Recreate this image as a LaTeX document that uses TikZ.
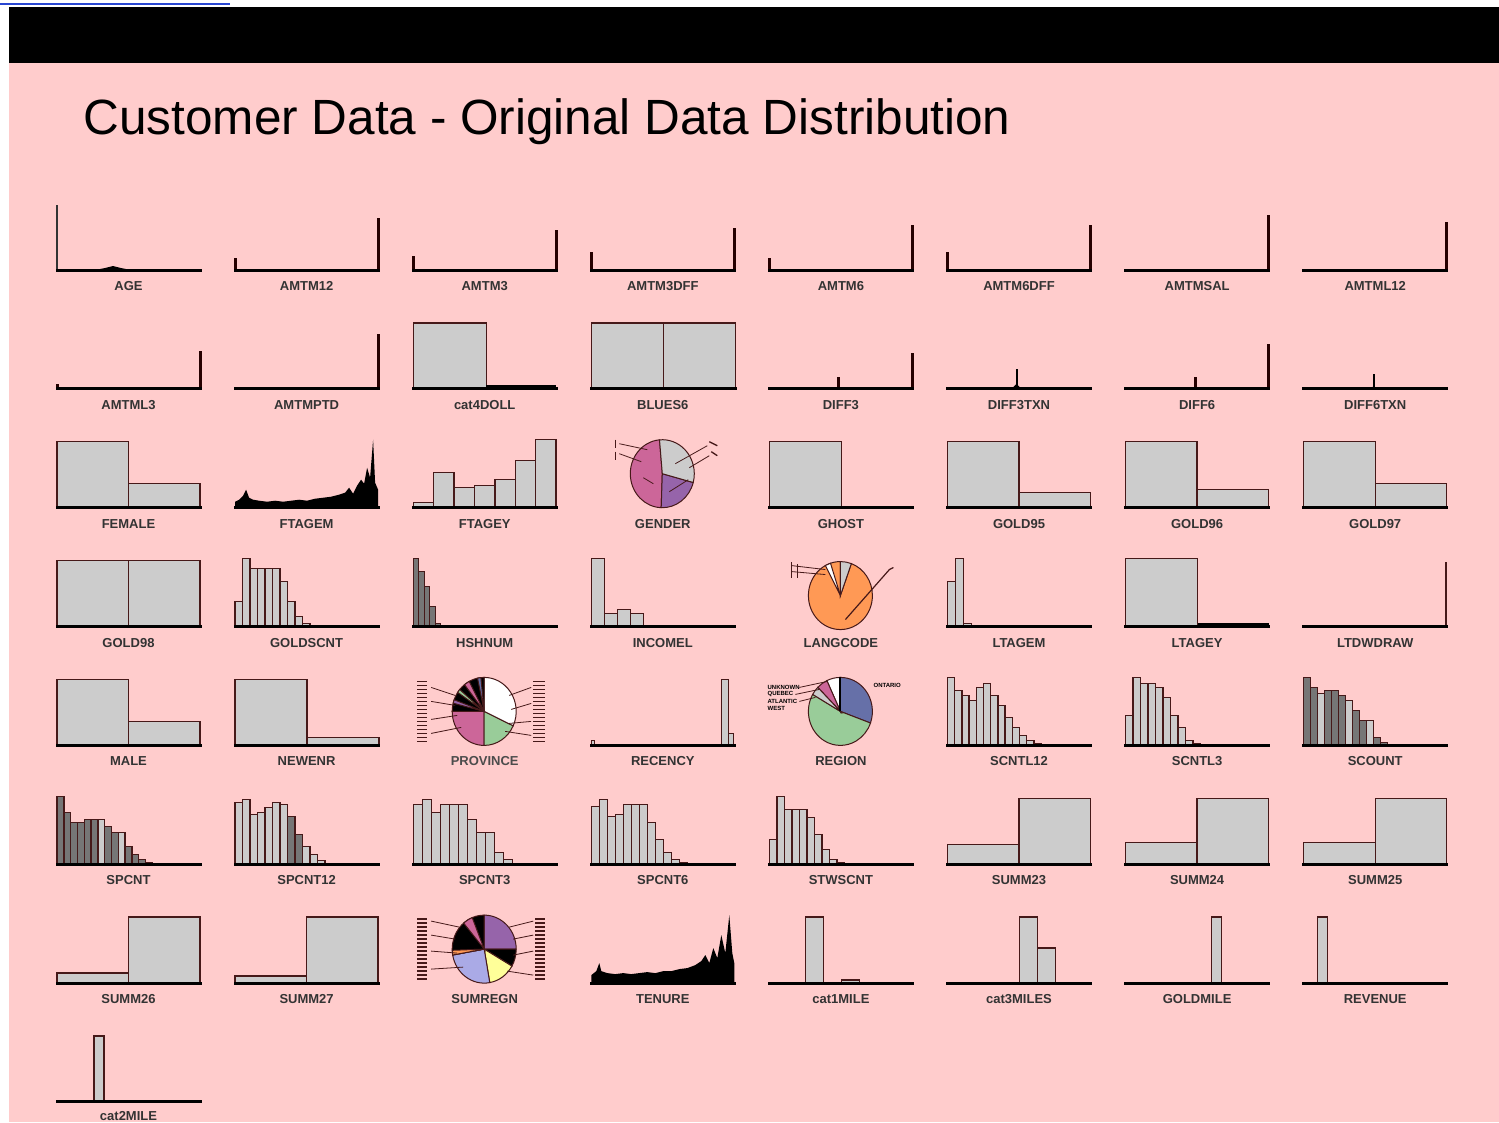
\documentclass[tikz,border=0pt]{standalone}
\usepackage{fontspec}
\setmainfont{Liberation Sans}
\usetikzlibrary{positioning}

\definecolor{bgpink}{RGB}{255,204,204}
\definecolor{bargray}{RGB}{204,204,204}
\definecolor{darkbar}{RGB}{118,118,118}
\definecolor{edge}{RGB}{70,25,25}
\definecolor{piepink}{RGB}{204,102,153}
\definecolor{piepurple}{RGB}{150,100,170}
\definecolor{pieorange}{RGB}{255,153,85}
\definecolor{piegreen}{RGB}{153,204,153}
\definecolor{pieblue}{RGB}{102,112,168}
\definecolor{pieyellow}{RGB}{255,255,153}
\definecolor{pielblue}{RGB}{170,170,230}
\definecolor{linkblue}{RGB}{40,70,210}

\tikzset{
  axis/.style={line width=3pt, line cap=rect},
  bar/.style={fill=bargray, draw=edge, line width=1.4pt},
  dbar/.style={bar, fill=darkbar},
  spike/.style={line width=3pt, draw=black!85!red},
  lead/.style={draw=edge, line width=0.8pt},
  lab/.style={font=\bfseries\fontsize{13}{13}\selectfont, text=black!80},
  tiny/.style={font=\bfseries\fontsize{6}{6}\selectfont, inner sep=0pt},
  % panel origin: left end of the base line of column #1, row #2
  cell/.style 2 args={shift={({57+178.1*(#1-1)},{-270-118.85*(#2-1)})}}
}

% histogram bars: first x, bar width, heights (optional bar style)
\newcommand{\histbars}[4][bar]{%
  \foreach \h [count=\i from 0] in {#4} {
    \draw[#1] ({#2+\i*#3},0) rectangle ++(#3,\h);
  }}
% one pie slice round (71,34): start angle, end angle, colour
\newcommand{\pieslice}[3]{%
  \filldraw[fill=#3, draw=edge, line width=1pt] (71,34) -- ++(#1:32 and 34)
    arc[start angle=#1, end angle=#2, x radius=32, y radius=34] -- cycle;}
% stacked label strokes beside a pie: x from, x to
\newcommand{\sidelabels}[2]{%
  \foreach \y in {4,8,...,64} {\draw[edge, line width=1.3pt] (#1,\y) -- (#2,\y);}}

\begin{document}
\begin{tikzpicture}[x=1pt, y=1pt]

  % page, header bar and title
  \useasboundingbox (0,-1122) rectangle (1499,0);
  \fill[white] (0,-1122) rectangle (1499,0);
  \fill[bgpink] (9,-1122) rectangle (1499,-63);
  \fill[black] (9,-63) rectangle (1499,-7);
  \draw[linkblue, line width=1.5pt] (0,-4) -- (230,-4);
  \node[anchor=base west, font=\fontsize{49.5}{55}\selectfont] (title) at (80,-134)
    {Customer Data - Original Data Distribution};

  %%% row 1
  \begin{scope}[cell={1}{1}]
    \draw[line width=2pt, black!80] (0,0) -- (0,65);
    \fill[black] (38,0) -- (48,2) -- (56,4) -- (64,2) -- (74,0) -- cycle;
    \draw[axis] (0,0) -- (143,0);
    \node[lab] (age) at (71.5,-16) {AGE};
  \end{scope}
  \begin{scope}[cell={2}{1}]
    \draw[spike] (0,0) -- (0,12);
    \draw[spike] (143,0) -- (143,52);
    \draw[axis] (0,0) -- (143,0);
    \node[lab] (amtm12) at (71.5,-16) {AMTM12};
  \end{scope}
  \begin{scope}[cell={3}{1}]
    \draw[spike] (0,0) -- (0,14);
    \draw[spike] (143,0) -- (143,40);
    \draw[axis] (0,0) -- (143,0);
    \node[lab] (amtm3) at (71.5,-16) {AMTM3};
  \end{scope}
  \begin{scope}[cell={4}{1}]
    \draw[spike] (0,0) -- (0,18);
    \draw[spike] (143,0) -- (143,42);
    \draw[axis] (0,0) -- (143,0);
    \node[lab] (amtm3dff) at (71.5,-16) {AMTM3DFF};
  \end{scope}
  \begin{scope}[cell={5}{1}]
    \draw[spike] (0,0) -- (0,12);
    \draw[spike] (143,0) -- (143,45);
    \draw[axis] (0,0) -- (143,0);
    \node[lab] (amtm6) at (71.5,-16) {AMTM6};
  \end{scope}
  \begin{scope}[cell={6}{1}]
    \draw[spike] (0,0) -- (0,18);
    \draw[spike] (143,0) -- (143,45);
    \draw[axis] (0,0) -- (143,0);
    \node[lab] (amtm6dff) at (71.5,-16) {AMTM6DFF};
  \end{scope}
  \begin{scope}[cell={7}{1}]
    \draw[spike] (143,0) -- (143,55);
    \draw[axis] (0,0) -- (143,0);
    \node[lab] (amtmsal) at (71.5,-16) {AMTMSAL};
  \end{scope}
  \begin{scope}[cell={8}{1}]
    \draw[spike] (143,0) -- (143,48);
    \draw[axis] (0,0) -- (143,0);
    \node[lab] (amtml12) at (71.5,-16) {AMTML12};
  \end{scope}

  %%% row 2
  \begin{scope}[cell={1}{2}]
    \draw[spike] (0,0) -- (0,5);
    \draw[spike] (143,0) -- (143,38);
    \draw[axis] (0,0) -- (143,0);
    \node[lab] (amtml3) at (71.5,-16) {AMTML3};
  \end{scope}
  \begin{scope}[cell={2}{2}]
    \draw[spike] (143,0) -- (143,55);
    \draw[axis] (0,0) -- (143,0);
    \node[lab] (amtmptd) at (71.5,-16) {AMTMPTD};
  \end{scope}
  \begin{scope}[cell={3}{2}]
    \histbars{0}{73}{66}
    \fill[black] (73,0) rectangle (143,4);
    \draw[axis] (0,0) -- (143,0);
    \node[lab] (cat4doll) at (71.5,-16) {cat4DOLL};
  \end{scope}
  \begin{scope}[cell={4}{2}]
    \histbars{0}{72}{66,66}
    \draw[axis] (0,0) -- (144,0);
    \node[lab] (blues6) at (71.5,-16) {BLUES6};
  \end{scope}
  \begin{scope}[cell={5}{2}]
    \draw[spike] (69,0) -- (69,12);
    \draw[spike] (143,0) -- (143,36);
    \draw[axis] (0,0) -- (143,0);
    \node[lab] (diff3) at (71.5,-16) {DIFF3};
  \end{scope}
  \begin{scope}[cell={6}{2}]
    \draw[line width=2pt] (69,0) -- (69,20);
    \fill[black] (64,0) -- (69,5) -- (74,0) -- cycle;
    \draw[axis] (0,0) -- (143,0);
    \node[lab] (diff3txn) at (71.5,-16) {DIFF3TXN};
  \end{scope}
  \begin{scope}[cell={7}{2}]
    \draw[spike] (70,0) -- (70,12);
    \draw[spike] (143,0) -- (143,45);
    \draw[axis] (0,0) -- (143,0);
    \node[lab] (diff6) at (71.5,-16) {DIFF6};
  \end{scope}
  \begin{scope}[cell={8}{2}]
    \draw[line width=2pt] (70,0) -- (70,15);
    \fill[black] (67,0) -- (70,3) -- (73,0) -- cycle;
    \draw[axis] (0,0) -- (143,0);
    \node[lab] (diff6txn) at (71.5,-16) {DIFF6TXN};
  \end{scope}

  %%% row 3
  \begin{scope}[cell={1}{3}]
    \histbars{0}{71.5}{66,24}
    \draw[axis] (0,0) -- (143,0);
    \node[lab] (female) at (71.5,-16) {FEMALE};
  \end{scope}
  \begin{scope}[cell={2}{3}]
    \fill[black] plot coordinates {(0,0) (0,6) (4,8) (8,12) (11,18) (14,10) (18,8)
      (24,7) (32,6) (40,7) (48,6) (56,7) (64,8) (72,7) (80,9) (88,10) (96,11)
      (104,13) (110,15) (114,20) (118,14) (122,22) (126,28) (129,24) (132,40)
      (135,30) (138,68) (140,25) (143,18) (143,0)} -- cycle;
    \draw[axis] (0,0) -- (143,0);
    \node[lab] (ftagem) at (71.5,-16) {FTAGEM};
  \end{scope}
  \begin{scope}[cell={3}{3}]
    \histbars{0}{20.4}{5,35,20,22,28,47,68}
    \draw[axis] (0,0) -- (143,0);
    \node[lab] (ftagey) at (71.5,-16) {FTAGEY};
  \end{scope}
  \begin{scope}[cell={4}{3}]
    \pieslice{95}{268}{piepink}
    \pieslice{268}{345}{piepurple}
    \pieslice{-15}{95}{bargray}
    \draw[lead] (56,58) -- (28,64) (50,46) -- (28,54);
    \draw[edge, line width=1.3pt] (24,68) -- (24,60) (24,56) -- (24,48);
    \draw[lead] (84,44) -- (116,62) (98,40) -- (118,52);
    \draw[edge, line width=1.3pt] (118,66) -- (126,62) (120,56) -- (126,52);
    \draw[lead] (78,16) -- (97,28) (52,30) -- (62,24);
    \node[lab] (gender) at (71.5,-16) {GENDER};
  \end{scope}
  \begin{scope}[cell={5}{3}]
    \histbars{0}{72}{66}
    \draw[axis] (0,0) -- (143,0);
    \node[lab] (ghost) at (71.5,-16) {GHOST};
  \end{scope}
  \begin{scope}[cell={6}{3}]
    \histbars{0}{71.5}{66,15}
    \draw[axis] (0,0) -- (143,0);
    \node[lab] (gold95) at (71.5,-16) {GOLD95};
  \end{scope}
  \begin{scope}[cell={7}{3}]
    \histbars{0}{71.5}{66,18}
    \draw[axis] (0,0) -- (143,0);
    \node[lab] (gold96) at (71.5,-16) {GOLD96};
  \end{scope}
  \begin{scope}[cell={8}{3}]
    \histbars{0}{71.5}{66,24}
    \draw[axis] (0,0) -- (143,0);
    \node[lab] (gold97) at (71.5,-16) {GOLD97};
  \end{scope}

  %%% row 4
  \begin{scope}[cell={1}{4}]
    \histbars{0}{71.5}{66,66}
    \draw[axis] (0,0) -- (143,0);
    \node[lab] (gold98) at (71.5,-16) {GOLD98};
  \end{scope}
  \begin{scope}[cell={2}{4}]
    \histbars{0}{7.5}{25,68,58,58,58,58,45,25,10,3}
    \draw[axis] (0,0) -- (143,0);
    \node[lab] (goldscnt) at (71.5,-16) {GOLDSCNT};
  \end{scope}
  \begin{scope}[cell={3}{4}]
    \histbars[dbar]{0}{5.5}{68,55,40,20,3}
    \draw[axis] (0,0) -- (143,0);
    \node[lab] (hshnum) at (71.5,-16) {HSHNUM};
  \end{scope}
  \begin{scope}[cell={4}{4}]
    \histbars{0}{13}{68,13,17,13,1}
    \draw[axis] (0,0) -- (143,0);
    \node[lab] (incomel) at (71.5,-16) {INCOMEL};
  \end{scope}
  \begin{scope}[cell={5}{4}, yshift=-3pt]
    \pieslice{90}{430}{pieorange}
    \pieslice{70}{90}{bargray}
    \pieslice{108}{118}{white}
    \draw[lead] (56,55) -- (22,58) (56,60) -- (22,64);
    \draw[edge, line width=1.3pt] (22,52) -- (22,68) (28,52) -- (28,66);
    \draw[lead, line width=1.2pt] (76,10) -- (120,60) -- (124,62);
    \node[lab] (langcode) at (71.5,-13) {LANGCODE};
  \end{scope}
  \begin{scope}[cell={6}{4}]
    \histbars{0}{8}{45,68,3}
    \draw[axis] (0,0) -- (143,0);
    \node[lab] (ltagem) at (71.5,-16) {LTAGEM};
  \end{scope}
  \begin{scope}[cell={7}{4}]
    \histbars{0}{72}{68}
    \fill[black] (72,0) rectangle (143,4);
    \draw[axis] (0,0) -- (143,0);
    \node[lab] (ltagey) at (71.5,-16) {LTAGEY};
  \end{scope}
  \begin{scope}[cell={8}{4}]
    \draw[line width=2pt, edge] (142,0) -- (142,65);
    \draw[axis] (0,0) -- (143,0);
    \node[lab] (ltdwdraw) at (71.5,-16) {LTDWDRAW};
  \end{scope}

  %%% row 5
  \begin{scope}[cell={1}{5}]
    \histbars{0}{71.5}{66,24}
    \draw[axis] (0,0) -- (143,0);
    \node[lab] (male) at (71.5,-16) {MALE};
  \end{scope}
  \begin{scope}[cell={2}{5}]
    \histbars{0}{72}{66,8}
    \draw[axis] (0,0) -- (143,0);
    \node[lab] (newenr) at (71.5,-16) {NEWENR};
  \end{scope}
  \begin{scope}[cell={3}{5}]
    \pieslice{180}{270}{piepink}
    \pieslice{270}{335}{piegreen}
    \pieslice{335}{450}{white}
    \pieslice{90}{180}{black}
    \pieslice{96}{102}{pieblue}
    \pieslice{118}{128}{piepink}
    \pieslice{140}{146}{piegreen}
    \pieslice{160}{166}{piepurple}
    \sidelabels{4}{14}
    \sidelabels{120}{132}
    \draw[lead] (42,50) -- (18,58) (42,40) -- (18,44) (44,30) -- (18,26) (48,18) -- (18,12);
    \draw[lead] (96,50) -- (118,58) (98,36) -- (118,42) (96,22) -- (118,24) (92,14) -- (118,10);
    \node[lab, text=black!70] (province) at (71.5,-16) {PROVINCE};
  \end{scope}
  \begin{scope}[cell={4}{5}]
    \draw[bar] (0,0) rectangle (3,5);
    \draw[bar] (130,0) rectangle (137,66);
    \draw[bar] (137,0) rectangle (142,12);
    \draw[axis] (0,0) -- (143,0);
    \node[lab] (recency) at (71.5,-16) {RECENCY};
  \end{scope}
  \begin{scope}[cell={5}{5}]
    \pieslice{-20}{90}{pieblue}
    \pieslice{150}{340}{piegreen}
    \pieslice{90}{115}{white}
    \pieslice{115}{135}{piepink}
    \pieslice{135}{150}{bargray}
    \draw[line width=2pt] (71,34) -- (71,68);
    \node[tiny, anchor=west] (ontario) at (104,60) {ONTARIO};
    \node[tiny, anchor=west] (unknown) at (-2,58) {UNKNOWN};
    \node[tiny, anchor=west] (quebec) at (-2,51) {QUEBEC};
    \node[tiny, anchor=west] (atlantic) at (-2,44) {ATLANTIC};
    \node[tiny, anchor=west] (west) at (-2,37) {WEST};
    \draw[lead] (30,58) -- (58,64) (26,51) -- (50,56) (30,44) -- (46,48);
    \node[lab] (region) at (71.5,-16) {REGION};
  \end{scope}
  \begin{scope}[cell={6}{5}]
    \histbars{0}{7.2}{68,55,50,45,58,62,50,40,28,18,10,5,2}
    \draw[axis] (0,0) -- (143,0);
    \node[lab] (scntl12) at (71.5,-16) {SCNTL12};
  \end{scope}
  \begin{scope}[cell={7}{5}]
    \histbars{0}{7.5}{30,68,62,62,58,48,30,18,5,2}
    \draw[axis] (0,0) -- (143,0);
    \node[lab] (scntl3) at (71.5,-16) {SCNTL3};
  \end{scope}
  \begin{scope}[cell={8}{5}]
    \histbars[dbar]{0}{7}{68,58,52,55,55,50,45,35,25,15,8,3}
    \draw[bar] (14,0) rectangle (21,52) (42,0) rectangle (49,45) (63,0) rectangle (70,25);
    \draw[axis] (0,0) -- (143,0);
    \node[lab] (scount) at (71.5,-16) {SCOUNT};
  \end{scope}

  %%% row 6
  \begin{scope}[cell={1}{6}]
    \histbars[dbar]{0}{6.8}{68,52,42,42,45,45,45,38,32,25,18,10,5,2}
    \draw[bar] (40.8,0) rectangle (47.6,45) (61.2,0) rectangle (68,32);
    \draw[axis] (0,0) -- (143,0);
    \node[lab] (spcnt) at (71.5,-16) {SPCNT};
  \end{scope}
  \begin{scope}[cell={2}{6}]
    \histbars{0}{7.5}{62,65,50,52,57,62,60,48,30,18,10,4}
    \draw[dbar] (52.5,0) rectangle (60,48) (60,0) rectangle (67.5,30);
    \draw[axis] (0,0) -- (143,0);
    \node[lab] (spcnt12) at (71.5,-16) {SPCNT12};
  \end{scope}
  \begin{scope}[cell={3}{6}]
    \histbars{0}{9}{60,65,52,60,60,60,45,32,32,12,5}
    \draw[axis] (0,0) -- (143,0);
    \node[lab] (spcnt3) at (71.5,-16) {SPCNT3};
  \end{scope}
  \begin{scope}[cell={4}{6}]
    \histbars{0}{8}{58,65,48,50,60,60,60,42,25,12,5,2}
    \draw[axis] (0,0) -- (143,0);
    \node[lab] (spcnt6) at (71.5,-16) {SPCNT6};
  \end{scope}
  \begin{scope}[cell={5}{6}]
    \histbars{0}{7.5}{25,68,55,55,55,47,30,15,5,2}
    \draw[axis] (0,0) -- (143,0);
    \node[lab] (stwscnt) at (71.5,-16) {STWSCNT};
  \end{scope}
  \begin{scope}[cell={6}{6}]
    \histbars{0}{71.5}{20,66}
    \draw[axis] (0,0) -- (143,0);
    \node[lab] (summ23) at (71.5,-16) {SUMM23};
  \end{scope}
  \begin{scope}[cell={7}{6}]
    \histbars{0}{71.5}{22,66}
    \draw[axis] (0,0) -- (143,0);
    \node[lab] (summ24) at (71.5,-16) {SUMM24};
  \end{scope}
  \begin{scope}[cell={8}{6}]
    \histbars{0}{71.5}{22,66}
    \draw[axis] (0,0) -- (143,0);
    \node[lab] (summ25) at (71.5,-16) {SUMM25};
  \end{scope}

  %%% row 7
  \begin{scope}[cell={1}{7}]
    \histbars{0}{71.5}{10,66}
    \draw[axis] (0,0) -- (143,0);
    \node[lab] (summ26) at (71.5,-16) {SUMM26};
  \end{scope}
  \begin{scope}[cell={2}{7}]
    \histbars{0}{71.5}{7,66}
    \draw[axis] (0,0) -- (143,0);
    \node[lab] (summ27) at (71.5,-16) {SUMM27};
  \end{scope}
  \begin{scope}[cell={3}{7}]
    \pieslice{0}{90}{piepurple}
    \pieslice{330}{360}{black}
    \pieslice{280}{330}{pieyellow}
    \pieslice{190}{280}{pielblue}
    \pieslice{90}{190}{black}
    \pieslice{112}{130}{piepink}
    \pieslice{182}{190}{pieorange}
    \sidelabels{4}{14}
    \sidelabels{122}{132}
    \draw[lead] (46,56) -- (18,62) (42,44) -- (18,48) (44,30) -- (18,32) (50,16) -- (18,14);
    \draw[lead] (96,56) -- (120,62) (100,44) -- (120,48) (100,28) -- (120,32) (94,12) -- (120,8);
    \node[lab] (sumregn) at (71.5,-16) {SUMREGN};
  \end{scope}
  \begin{scope}[cell={4}{7}]
    \fill[black] plot coordinates {(0,0) (0,8) (5,12) (8,20) (10,12) (16,10) (24,9)
      (32,10) (40,9) (48,10) (56,11) (64,10) (72,12) (80,12) (88,14) (96,15)
      (104,18) (110,22) (114,28) (118,20) (122,35) (126,25) (130,48) (134,30)
      (138,68) (141,30) (143,20) (143,0)} -- cycle;
    \draw[axis] (0,0) -- (143,0);
    \node[lab] (tenure) at (71.5,-16) {TENURE};
  \end{scope}
  \begin{scope}[cell={5}{7}]
    \histbars{36}{18}{66}
    \histbars{72}{18}{3}
    \draw[axis] (0,0) -- (143,0);
    \node[lab] (cat1mile) at (71.5,-16) {cat1MILE};
  \end{scope}
  \begin{scope}[cell={6}{7}]
    \histbars{72}{18}{66,35}
    \draw[axis] (0,0) -- (143,0);
    \node[lab] (cat3miles) at (71.5,-16) {cat3MILES};
  \end{scope}
  \begin{scope}[cell={7}{7}]
    \histbars{86}{10}{66}
    \draw[axis] (0,0) -- (143,0);
    \node[lab] (goldmile) at (71.5,-16) {GOLDMILE};
  \end{scope}
  \begin{scope}[cell={8}{7}]
    \histbars{14}{10}{66}
    \draw[axis] (0,0) -- (143,0);
    \node[lab] (revenue) at (71.5,-16) {REVENUE};
  \end{scope}

  %%% row 8
  \begin{scope}[cell={1}{8}]
    \histbars{37}{10}{66}
    \draw[axis] (0,0) -- (143,0);
    \node[lab] (cat2mile) at (71.5,-14) {cat2MILE};
  \end{scope}
\end{tikzpicture}
\end{document}
